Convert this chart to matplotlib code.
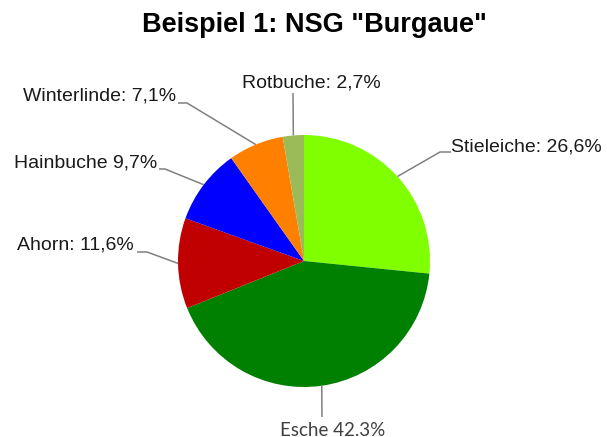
import numpy as np
import matplotlib.pyplot as plt

# data
species = ['Stieleiche', 'Esche', 'Ahorn', 'Hainbuche', 'Winterlinde', 'Rotbuche']
shares = [26.6, 42.3, 11.6, 9.7, 7.1, 2.7]
labels = ['Stieleiche: 26,6%', 'Esche 42.3%', 'Ahorn: 11,6%',
          'Hainbuche 9,7%', 'Winterlinde: 7,1%', 'Rotbuche: 2,7%']
colors = ['#80FF00', '#008000', '#C00000', '#0000FF', '#FF8000', '#9BBB59']

W, H = 607, 437
CX, CY, R = 304, 261, 126

def px(x, y):
    # pixel position (top-left origin) -> pie data coords
    return (x - CX) / R, (CY - y) / R

fig = plt.figure(figsize=(W / 100, H / 100), dpi=100)
ax = fig.add_axes([(CX - R) / W, (H - CY - R) / H, 2 * R / W, 2 * R / H])

wedges, _ = ax.pie(shares, colors=colors, startangle=90, counterclock=False,
                   radius=1, wedgeprops=dict(linewidth=0))
ax.set_xlim(-1, 1)
ax.set_ylim(-1, 1)
ax.set_aspect('equal')
ax.axis('off')

# label layout in pixels: text anchor, ha, elbow, line end near text
layout = [
    ((451, 147), 'left', (440, 152), (451, 152)),
    ((333, 430), 'center', (322, 417), (322, 417)),
    ((134, 245), 'right', (147, 252), (137, 252)),
    ((157, 163), 'right', (165, 169), (159, 169)),
    ((176, 96), 'right', (187, 103), (178, 103)),
    ((311, 83), 'center', (293, 93), (293, 93)),
]

for w, lab, (tpos, ha, elbow, lend) in zip(wedges, labels, layout):
    ang = np.deg2rad((w.theta1 + w.theta2) / 2)
    ex, ey = np.cos(ang), np.sin(ang)
    bx, by = px(*elbow)
    lx, ly = px(*lend)
    ax.plot([ex, bx, lx], [ey, by, ly], color='#808080', lw=1.1,
            clip_on=False, solid_capstyle='butt')
    tx, ty = px(*tpos)
    if lab.startswith('Esche'):
        ax.text(tx, ty, lab, ha=ha, va='center', fontsize=13.5,
                family='Lato', color='#404040', clip_on=False)
    else:
        ax.text(tx, ty, lab, ha=ha, va='center', fontsize=14,
                family='Liberation Sans', color='#1a1a1a', clip_on=False)

fig.text(314 / W, 1 - 25 / H, 'Beispiel 1: NSG "Burgaue"', ha='center',
         va='center', fontsize=19.5, fontweight='bold', family='Liberation Sans')

fig.savefig('out.png', dpi=100)
